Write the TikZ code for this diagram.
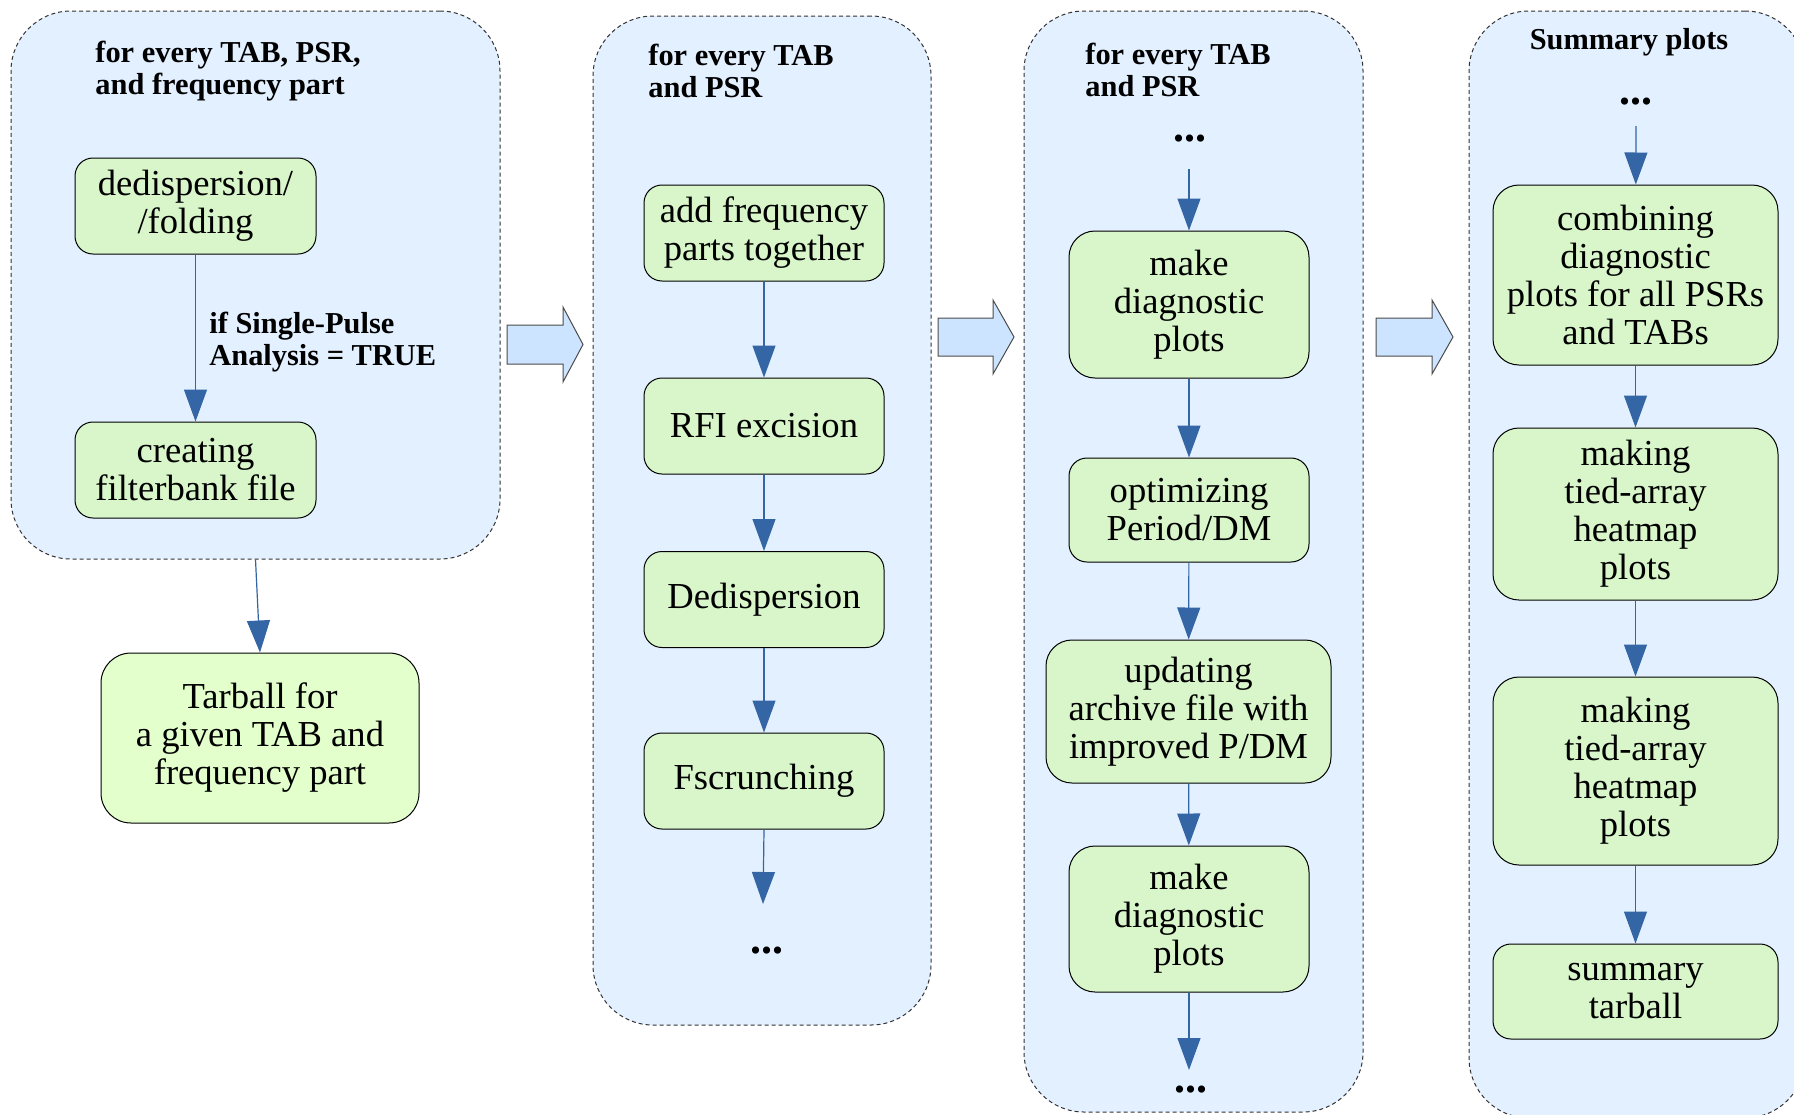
\documentclass[tikz,border=0pt]{standalone}
\usepackage{fontspec}
\setmainfont{Liberation Serif}
\usetikzlibrary{arrows.meta}
\definecolor{panelfill}{HTML}{E3F0FF}
\definecolor{boxfill}{HTML}{D8F6C9}
\definecolor{tarfill}{HTML}{E3FFCC}
\definecolor{arrowblue}{HTML}{3465A4}
\definecolor{bigarrow}{HTML}{CCE4FF}
\begin{document}
\begin{tikzpicture}[x=0.5pt,y=-0.5pt,
 panel/.style={draw=black!80, dash pattern=on 2pt off 1.5pt, line width=0.5pt, fill=panelfill, rounded corners=30pt, inner sep=0pt},
 box/.style={draw=black, line width=0.5pt, fill=boxfill, rounded corners=9pt, align=center, font=\fontsize{18.3}{19}\selectfont, inner sep=0pt},
 bigbox/.style={box, rounded corners=13pt},
 title/.style={font=\fontsize{15.2}{16}\selectfont\bfseries, align=left, inner sep=0pt},
 dotsn/.style={font=\fontsize{22}{22}\selectfont\bfseries, inner sep=0pt},
 flow/.style={draw=arrowblue, line width=0.6pt, -{Triangle[length=16pt,width=11.5pt]}},
 bigarr/.style={draw=black!70, line width=0.5pt, fill=bigarrow}
]
\useasboundingbox (0,0) rectangle (1794,1114);
\clip (0,0) rectangle (1794,1114);
\fill[white] (0,0) rectangle (1794,1114);

% panels
\node[panel, minimum width=244.5pt, minimum height=274pt] (p1) at (255.5,285) {};
\node[panel, minimum width=169pt, minimum height=504.5pt] (p2) at (762,520.5) {};
\node[panel, minimum width=169.5pt, minimum height=550.5pt] (p3) at (1193.5,561.5) {};
\node[panel, minimum width=168pt, minimum height=553.5pt] (p4) at (1637,564.5) {};

% titles
\node[title, anchor=west] (t1) at (95,71) {for every TAB, PSR,\\and frequency part};
\node[title, anchor=west] (t2) at (648,71) {for every TAB\\and PSR};
\node[title, anchor=west] (t3) at (1085,70) {for every TAB\\and PSR};
\node[title] (t4) at (1629,42) {Summary plots};

% panel 1
\node[box, minimum width=120.5pt, minimum height=48pt] (b1) at (195.5,206) {dedispersion/\\/folding};
\node[box, minimum width=120.5pt, minimum height=48pt] (b2) at (195.5,470) {creating\\filterbank file};
\node[title, anchor=west] (cond) at (209,342) {if Single-Pulse\\Analysis = TRUE};
\draw[flow] (b1) -- (b2);
\node[bigbox, fill=tarfill, minimum width=159pt, minimum height=85pt, rounded corners=15pt] (tar) at (260,738) {Tarball for\\a given TAB and\\frequency part};
\draw[flow] (p1.south) -- (tar.north);

% panel 2
\node[box, minimum width=120pt, minimum height=48pt] (add) at (764,233) {add frequency\\parts together};
\node[box, minimum width=120pt, minimum height=48pt] (rfi) at (764,426) {RFI excision};
\node[box, minimum width=120pt, minimum height=48pt] (ded) at (764,599.5) {Dedispersion};
\node[box, minimum width=120pt, minimum height=48pt] (fs) at (764,781) {Fscrunching};
\coordinate (e2) at (763,904);
\node[dotsn] (d2) at (767,951) {...};
\draw[flow] (add) -- (rfi);
\draw[flow] (rfi) -- (ded);
\draw[flow] (ded) -- (fs);
\draw[flow] (fs.south) -- (e2);

% panel 3
\node[dotsn] (d3a) at (1190,139) {...};
\coordinate (s3) at (1189,169);
\node[bigbox, minimum width=120pt, minimum height=73.5pt] (mk1) at (1189,304.5) {make\\diagnostic\\plots};
\node[box, minimum width=120pt, minimum height=52pt] (opt) at (1189,510) {optimizing\\Period/DM};
\node[bigbox, minimum width=142.5pt, minimum height=71.5pt] (upd) at (1188.5,711.5) {updating\\archive file with\\improved P/DM};
\node[bigbox, minimum width=120pt, minimum height=73pt] (mk2) at (1189,919) {make\\diagnostic\\plots};
\coordinate (e3) at (1189,1070);
\node[dotsn] (d3b) at (1191,1090) {...};
\draw[flow] (s3) -- (mk1);
\draw[flow] (mk1) -- (opt);
\draw[flow] (opt) -- (upd);
\draw[flow] (upd) -- (mk2);
\draw[flow] (mk2.south) -- (e3);

% panel 4
\node[dotsn] (d4) at (1636,102) {...};
\coordinate (s4) at (1636,126);
\node[bigbox, minimum width=142.5pt, minimum height=90pt] (comb) at (1635.5,275) {combining\\diagnostic\\plots for all PSRs\\and TABs};
\node[bigbox, minimum width=142.5pt, minimum height=86pt] (hm1) at (1635.5,514) {making\\tied-array\\heatmap\\plots};
\node[bigbox, minimum width=142.5pt, minimum height=94pt] (hm2) at (1635.5,771) {making\\tied-array\\heatmap\\plots};
\node[box, minimum width=142.5pt, minimum height=47.5pt] (sum) at (1635.5,991.5) {summary\\tarball};
\draw[flow] (s4) -- (comb);
\draw[flow] (comb) -- (hm1);
\draw[flow] (hm1) -- (hm2);
\draw[flow] (hm2) -- (sum);

% block arrows
\draw[bigarr] (507,325) -- (563,325) -- (563,307) -- (583,344.5) -- (563,382) -- (563,364) -- (507,364) -- cycle;
\draw[bigarr] (938,318) -- (993,318) -- (993,300) -- (1014,337) -- (993,374) -- (993,356) -- (938,356) -- cycle;
\draw[bigarr] (1376,318) -- (1432,318) -- (1432,300) -- (1453,337) -- (1432,374) -- (1432,356) -- (1376,356) -- cycle;
\end{tikzpicture}
\end{document}
